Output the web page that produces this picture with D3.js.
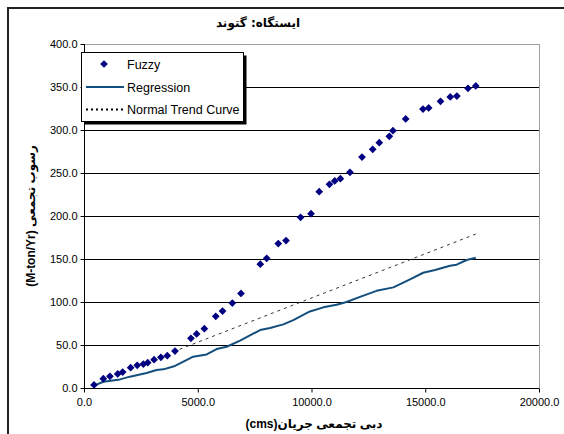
<!DOCTYPE html>
<html>
<head>
<meta charset="utf-8">
<script src="https://cdn.jsdelivr.net/npm/d3@7"></script>
<style>
  html, body { margin: 0; padding: 0; background: #fff; }
  svg { display: block; font-family: "Liberation Sans", Arial, "DejaVu Sans", sans-serif; }
</style>
</head>
<body>
<div id="chart"></div>
<script>
// ---- data ----
const titleText = 'ایستگاه: گتوند';
const xTitle = '(cms)دبی تجمعی جریان';
const yTitle = '(M-ton/Yr) رسوب تجمعی';

const xTicks = [0, 5000, 10000, 15000, 20000];
const yTicks = [0, 50, 100, 150, 200, 250, 300, 350, 400];

const fuzzyX = [440, 850, 1140, 1480, 1700, 2050, 2340, 2610, 2800, 3080, 3380, 3660, 4000,
  4700, 4950, 5290, 5790, 6090, 6520, 6900, 7750, 8030, 8540, 8880, 9520, 9980, 10340,
  10790, 11020, 11270, 11690, 12220, 12690, 12980, 13420, 13580, 14140, 14900, 15150,
  15670, 16100, 16390, 16880, 17220];
const fuzzyY = [3.5, 10.8, 13.6, 16.3, 18.6, 23.6, 26.4, 27.9, 29.4, 32.9, 35.7, 37.6, 43,
  57.8, 62.8, 69, 83.4, 89.5, 98.8, 110, 144, 150.8, 168, 171.5, 198.5, 202.7, 228.2,
  236.8, 240.7, 243.4, 250.8, 268.6, 277.5, 285.2, 292.6, 299.2, 312.8, 324.4, 325.6,
  333.4, 338.4, 339.5, 348.5, 351.2];

const regX = [440, 850, 1580, 2020, 2750, 3190, 3490, 4000, 4370, 4800, 5390, 5830, 6270,
  6860, 7740, 8180, 8760, 9200, 9930, 10520, 11100, 11540, 12130, 12860, 13600, 14330,
  14910, 15430, 16090, 16380, 16820, 17220];
const regY = [2.7, 7.3, 10, 13.2, 17.4, 21, 21.7, 25.6, 30.6, 36.4, 39, 45.3, 48,
  55, 67.4, 69.8, 74, 79, 89, 93.8, 96.9, 100, 106, 113, 117, 126.4,
  134, 137.2, 142.2, 143.4, 148.8, 151.5];

const trendX = [4200, 9200, 13300, 17220];
const trendY = [45, 96.5, 138.5, 179];

const legendLabels = ['Fuzzy', 'Regression', 'Normal Trend Curve'];

// ---- layout ----
const width = 564, height = 434;
const plot = { left: 84, right: 539, top: 44, bottom: 388 };
const colors = { fuzzy: '#000080', reg: '#134e7c', trend: '#000' };

const svg = d3.select('#chart').append('svg')
  .attr('width', width)
  .attr('height', height);

// outer chart border (runs off the right and bottom edges)
svg.append('rect')
  .attr('x', 8).attr('y', 8)
  .attr('width', 620).attr('height', 500)
  .attr('fill', 'none')
  .attr('stroke', '#222')
  .attr('stroke-width', 2);

const x = d3.scaleLinear().domain([0, 20000]).range([plot.left, plot.right]);
const y = d3.scaleLinear().domain([0, 400]).range([plot.bottom, plot.top]);

// plot area frame (top / right in grey)
svg.append('rect')
  .attr('x', plot.left + 0.5).attr('y', plot.top + 0.5)
  .attr('width', plot.right - plot.left).attr('height', plot.bottom - plot.top)
  .attr('fill', '#fff')
  .attr('stroke', '#a0a0a0');

// gridlines
svg.append('g')
  .selectAll('line')
  .data(yTicks.filter(d => d > 0 && d < 400))
  .join('line')
  .attr('x1', plot.left).attr('x2', plot.right)
  .attr('y1', d => Math.round(y(d)) + 0.5)
  .attr('y2', d => Math.round(y(d)) + 0.5)
  .attr('stroke', '#000');

// axes
const yAxis = svg.append('g')
  .attr('transform', `translate(${plot.left + 0.5},0)`)
  .call(d3.axisLeft(y).tickValues(yTicks).tickFormat(d3.format('.1f')).tickSize(4).tickPadding(3));
const xAxis = svg.append('g')
  .attr('transform', `translate(0,${plot.bottom + 0.5})`)
  .call(d3.axisBottom(x).tickValues(xTicks).tickFormat(d3.format('.1f')).tickSize(4).tickPadding(6));

[xAxis, yAxis].forEach(a => {
  a.select('.domain').attr('stroke', '#000');
  a.selectAll('.tick line').attr('stroke', '#000');
  a.selectAll('.tick text')
    .attr('fill', '#000')
    .style('font-size', '11px')
    .style('font-family', '"Liberation Sans", Arial, sans-serif');
});
xAxis.select('.domain').attr('d', `M${plot.left},0H${plot.right}`);
yAxis.select('.domain').attr('d', `M0,${plot.bottom}V${plot.top}`);

// trend line (dashed)
const line = d3.line().x(d => x(d[0])).y(d => y(d[1]));
svg.append('path')
  .datum(d3.zip(trendX, trendY))
  .attr('d', line)
  .attr('fill', 'none')
  .attr('stroke', '#333')
  .attr('stroke-width', 1)
  .attr('stroke-dasharray', '3,4');

// regression line
svg.append('path')
  .datum(d3.zip(regX, regY))
  .attr('d', line)
  .attr('fill', 'none')
  .attr('stroke', colors.reg)
  .attr('stroke-width', 2)
  .attr('stroke-linejoin', 'round');

// fuzzy markers
const diamond = d3.symbol().type(d3.symbolSquare).size(30);
svg.append('g')
  .selectAll('path')
  .data(d3.zip(fuzzyX, fuzzyY))
  .join('path')
  .attr('d', diamond)
  .attr('transform', d => `translate(${x(d[0])},${y(d[1])}) rotate(45)`)
  .attr('fill', colors.fuzzy);

// legend
const lg = svg.append('g');
lg.append('rect')
  .attr('x', 84.5).attr('y', 55.5).attr('width', 162).attr('height', 69)
  .attr('fill', '#000');
lg.append('rect')
  .attr('x', 81.5).attr('y', 52.5).attr('width', 162).attr('height', 69)
  .attr('fill', '#fff').attr('stroke', '#000');

const rowY = [64, 87, 109];
lg.append('path')
  .attr('d', diamond)
  .attr('transform', `translate(104,${rowY[0]}) rotate(45)`)
  .attr('fill', colors.fuzzy);
lg.append('line')
  .attr('x1', 86).attr('x2', 124).attr('y1', rowY[1]).attr('y2', rowY[1])
  .attr('stroke', colors.reg).attr('stroke-width', 2);
lg.append('line')
  .attr('x1', 86).attr('x2', 124).attr('y1', rowY[2] + 0.5).attr('y2', rowY[2] + 0.5)
  .attr('stroke', '#000').attr('stroke-width', 2).attr('stroke-dasharray', '2,3');

lg.selectAll('text.leg')
  .data(legendLabels)
  .join('text')
  .attr('class', 'leg')
  .attr('x', 127)
  .attr('y', (d, i) => rowY[i])
  .attr('dy', '0.36em')
  .style('font-size', '12.5px')
  .text(d => d);

// titles
svg.append('text')
  .attr('x', 258).attr('y', 27)
  .attr('text-anchor', 'middle')
  .style('font-size', '12px')
  .style('font-weight', 'bold')
  .style('font-family', '"DejaVu Sans", sans-serif')
  .text(titleText);

svg.append('text')
  .attr('x', 314).attr('y', 428)
  .attr('text-anchor', 'middle')
  .style('font-size', '12px')
  .style('font-weight', 'bold')
  .text(xTitle);

svg.append('text')
  .attr('transform', `translate(35,${(plot.top + plot.bottom) / 2}) rotate(-90)`)
  .attr('text-anchor', 'middle')
  .style('font-size', '12px')
  .style('font-weight', 'bold')
  .text(yTitle);
</script>
</body>
</html>
